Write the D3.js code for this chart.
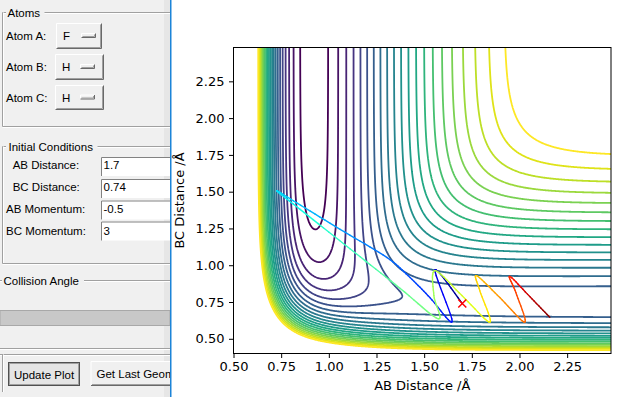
<!DOCTYPE html>
<html><head><meta charset="utf-8">
<script src="https://cdn.jsdelivr.net/npm/d3@7"></script>
<style>body{margin:0;background:#fff;overflow:hidden}svg{display:block}</style>
</head><body>
<svg id="c" width="636" height="397"></svg>
<script>
// ---------------- data ----------------
const atomLabels = ["Atom A:", "Atom B:", "Atom C:"];
const atomValues = ["F", "H", "H"];
const condLabels = ["AB Distance:", "BC Distance:", "AB Momentum:", "BC Momentum:"];
const condValues = ["1.7", "0.74", "-0.5", "3"];
const xTicks = [0.50, 0.75, 1.00, 1.25, 1.50, 1.75, 2.00, 2.25];
const yTicks = [0.50, 0.75, 1.00, 1.25, 1.50, 1.75, 2.00, 2.25];
const xDomain = [0.5, 2.48];
const yDomain = [0.4, 2.48];
// contour levels (kJ/mol)
const levels = [-575.0, -552.3, -529.6, -506.9, -484.2, -461.5, -438.8, -416.1, -393.4, -370.7,
  -348.0, -325.3, -302.6, -279.9, -257.2, -234.5, -211.8, -189.1, -166.4, -143.7, -121.0];
// LEPS pair parameters: D (kJ/mol), beta (1/Å), re (Å), Sato k
const pairHF = [590.5, 2.219, 0.917, 0.167];
const pairHH = [458.0, 1.942, 0.7414, 0.20];
// trajectory
const trajAB = [1.700, 1.557, 1.647, 1.530, 1.426, 1.304, 1.059, 0.814, 0.727, 0.849, 1.111, 1.373, 1.574,
  1.551, 1.557, 1.698, 1.845, 1.792, 1.775, 1.897, 2.028, 1.981, 1.949, 2.054, 2.159];
const trajBC = [0.740, 0.970, 0.617, 0.780, 0.916, 1.053, 1.244, 1.438, 1.505, 1.380, 1.112, 0.844, 0.636,
  0.794, 0.963, 0.794, 0.613, 0.827, 0.929, 0.780, 0.613, 0.814, 0.924, 0.787, 0.646];
const trajT = [0.00, 0.07, 0.14, 0.17, 0.20, 0.23, 0.28, 0.32, 0.34, 0.37, 0.42, 0.47, 0.51,
  0.54, 0.57, 0.61, 0.65, 0.68, 0.70, 0.75, 0.80, 0.84, 0.87, 0.94, 1.00];
const startAB = 1.7, startBC = 0.74;

// ---------------- layout ----------------
const svg = d3.select("#c");
const uiFont = "'Liberation Sans', Arial, sans-serif";
const uiSize = 11.5;
const plotFont = "'DejaVu Sans', sans-serif";
const L = 233.5, R = 611, T = 47.5, B = 353.5;
const x = d3.scaleLinear().domain(xDomain).range([L, R]);
const y = d3.scaleLinear().domain(yDomain).range([B, T]);

// ---------------- left panel ----------------
const panel = svg.append("g");
panel.append("rect").attr("x", 0).attr("y", 0).attr("width", 170).attr("height", 397).attr("fill", "#f0f0f0");
panel.append("rect").attr("x", 164).attr("y", 0).attr("width", 6).attr("height", 397).attr("fill", "#e6e6e6");

function groove(x1, y1, x2, y2) {
  panel.append("line").attr("x1", x1).attr("y1", y1).attr("x2", x2).attr("y2", y2).attr("stroke", "#a0a0a0");
  panel.append("line").attr("x1", x1 + (x1 === x2 ? 1 : 0)).attr("y1", y1 + (y1 === y2 ? 1 : 0))
    .attr("x2", x2 + (x1 === x2 ? 1 : 0)).attr("y2", y2 + (y1 === y2 ? 1 : 0)).attr("stroke", "#ffffff");
}
function uiText(tx, ty, s) {
  return panel.append("text").attr("x", tx).attr("y", ty).text(s)
    .attr("font-family", uiFont).attr("font-size", uiSize).attr("fill", "#000");
}
function frame(top, bottom, titleX, titleW, title, base) {
  groove(2.5, top, 6, top);
  groove(titleX + titleW + 1, top, 170, top);
  groove(2.5, top, 2.5, bottom);
  groove(2.5, bottom, 170, bottom);
  uiText(titleX, base, title);
}
frame(12.5, 126.5, 7.5, 36, "Atoms", 16.8);
frame(146.5, 263.5, 8.5, 88, "Initial Conditions", 150.8);
// collision angle
groove(0, 280.5, 2, 280.5);
groove(84, 280.5, 170, 280.5);
uiText(3.5, 284.5, "Collision Angle");
groove(0, 348.5, 170, 348.5);
panel.append("rect").attr("x", 0).attr("y", 310.5).attr("width", 170).attr("height", 15)
  .attr("fill", "#c8c8c8").attr("stroke", "#a8a8a8");
// buttons frame
groove(0, 354.5, 170, 354.5);
groove(2.5, 354.5, 2.5, 392);

function raised(x0, y0, w, h) {
  panel.append("rect").attr("x", x0).attr("y", y0).attr("width", w).attr("height", h).attr("fill", "#f0f0f0");
  panel.append("path").attr("d", `M${x0 + 0.5},${y0 + h - 0.5}V${y0 + 0.5}H${x0 + w - 0.5}`).attr("fill", "none").attr("stroke", "#ffffff");
  panel.append("path").attr("d", `M${x0 + 0.5},${y0 + h - 0.5}H${x0 + w - 0.5}V${y0 + 0.5}`).attr("fill", "none").attr("stroke", "#696969");
  panel.append("path").attr("d", `M${x0 + 1.5},${y0 + h - 1.5}H${x0 + w - 1.5}V${y0 + 1.5}`).attr("fill", "none").attr("stroke", "#a0a0a0");
}
const atomRows = [[56, 23, 46, 26, 40], [55, 54, 49, 26, 71], [55, 85, 49, 25, 101.7]];
atomLabels.forEach((lab, i) => {
  const [bx, by, bw, bh, base] = atomRows[i];
  uiText(6, base, lab);
  raised(bx, by, bw, bh);
  uiText(bx + 7, base, atomValues[i]);
  raised(bx + 25, by + bh / 2 - 3, 15, 5);
});
const condRows = [[12.7, 169.3, 157], [12.7, 191, 179], [6, 213.3, 200.5], [6, 234.5, 221.5]];
condLabels.forEach((lab, i) => {
  const [lx, base, ey] = condRows[i];
  uiText(lx, base, lab);
  panel.append("rect").attr("x", 101).attr("y", ey).attr("width", 70).attr("height", 19).attr("fill", "#ffffff");
  panel.append("path").attr("d", `M101.5,${ey + 19}V${ey + 0.5}H171`).attr("fill", "none").attr("stroke", "#828282");
  uiText(103.5, base, condValues[i]);
});
// Update Plot (focused)
panel.append("rect").attr("x", 8.5).attr("y", 362.5).attr("width", 71).attr("height", 23)
  .attr("fill", "#e5e5e5").attr("stroke", "#505050");
panel.append("rect").attr("x", 9.5).attr("y", 363.5).attr("width", 69).attr("height", 21)
  .attr("fill", "none").attr("stroke", "#a0a0a0");
uiText(14, 379, "Update Plot");
raised(90.5, 361, 90, 25);
uiText(96.5, 378, "Get Last Geometry");

// ---------------- plot window ----------------
svg.append("rect").attr("x", 171).attr("y", 0).attr("width", 465).attr("height", 397).attr("fill", "#ffffff");
svg.append("rect").attr("x", 170).attr("y", 0).attr("width", 1.5).attr("height", 397).attr("fill", "#1c84d8");

svg.append("clipPath").attr("id", "clip").append("rect")
  .attr("x", L).attr("y", T).attr("width", R - L).attr("height", B - T);

// LEPS surface on a grid, then contours with d3.contours
function leps(rab, rbc) {
  const rac = rab + rbc;
  function qj(r, p) {
    const [D, be, re, k] = p;
    const e = Math.exp(-be * (r - re));
    const Q = D / 4 * ((3 + k) * e * e - (2 + 6 * k) * e) / (1 + k);
    const J = D / 4 * ((1 + 3 * k) * e * e - (6 + 2 * k) * e) / (1 + k);
    return [Q, J];
  }
  const [q1, j1] = qj(rab, pairHF), [q2, j2] = qj(rbc, pairHH), [q3, j3] = qj(rac, pairHF);
  return q1 + q2 + q3 - Math.sqrt(0.5 * ((j1 - j2) ** 2 + (j2 - j3) ** 2 + (j3 - j1) ** 2));
}
const step = 0.004;
const gx0 = 0.46, gy0 = 0.36;
const nx = Math.round((2.52 - gx0) / step) + 1, ny = Math.round((2.52 - gy0) / step) + 1;
const grid = new Float64Array(nx * ny);
for (let j = 0; j < ny; j++) for (let i = 0; i < nx; i++) grid[j * nx + i] = leps(gx0 + i * step, gy0 + j * step);
const contours = d3.contours().size([nx, ny]).thresholds(levels)(Array.from(grid));
const color = d3.scaleSequential(d3.interpolateViridis).domain([levels[0], levels[levels.length - 1]]);
const gx = c => x(gx0 + (c - 0.5) * step), gy = c => y(gy0 + (c - 0.5) * step);
const toPath = geom => geom.coordinates.map(poly => poly.map(ring =>
  "M" + ring.map(p => gx(p[0]).toFixed(2) + "," + gy(p[1]).toFixed(2)).join("L") + "Z").join("")).join("");
const cg = svg.append("g").attr("clip-path", "url(#clip)");
cg.selectAll("path.c").data(contours).join("path").attr("class", "c")
  .attr("d", toPath).attr("fill", "none").attr("stroke", d => color(d.value))
  .attr("stroke-width", 1.8).attr("stroke-linejoin", "round");

// trajectory with jet colormap
const jr = d3.scaleLinear().domain([0, 0.35, 0.66, 0.89, 1]).range([0, 0, 1, 1, 0.5]).clamp(true);
const jg = d3.scaleLinear().domain([0, 0.125, 0.375, 0.64, 0.91, 1]).range([0, 0, 1, 1, 0, 0]).clamp(true);
const jb = d3.scaleLinear().domain([0, 0.11, 0.34, 0.65, 1]).range([0.5, 1, 1, 0, 0]).clamp(true);
const jet = t => d3.rgb(255 * jr(t), 255 * jg(t), 255 * jb(t)).formatHex();
const pts = trajAB.map((a, i) => [x(a), y(trajBC[i])]);
const tg = cg.append("g");
for (let i = 0; i < pts.length - 1; i++) {
  const p0 = pts[Math.max(0, i - 1)], p1 = pts[i], p2 = pts[i + 1], p3 = pts[Math.min(pts.length - 1, i + 2)];
  const c1 = [p1[0] + (p2[0] - p0[0]) / 6, p1[1] + (p2[1] - p0[1]) / 6];
  const c2 = [p2[0] - (p3[0] - p1[0]) / 6, p2[1] - (p3[1] - p1[1]) / 6];
  const n = 10;
  let prev = p1;
  for (let s = 1; s <= n; s++) {
    const u = s / n, v = 1 - u;
    const q = [v * v * v * p1[0] + 3 * v * v * u * c1[0] + 3 * v * u * u * c2[0] + u * u * u * p2[0],
               v * v * v * p1[1] + 3 * v * v * u * c1[1] + 3 * v * u * u * c2[1] + u * u * u * p2[1]];
    const t = trajT[i] + (trajT[i + 1] - trajT[i]) * (s - 0.5) / n;
    tg.append("line").attr("x1", prev[0]).attr("y1", prev[1]).attr("x2", q[0]).attr("y2", q[1])
      .attr("stroke", jet(t)).attr("stroke-width", 1.4).attr("stroke-linecap", "round");
    prev = q;
  }
}
// start marker
const mx = x(startAB), my = y(startBC);
svg.append("path").attr("d", `M${mx - 4},${my - 4}L${mx + 4},${my + 4}M${mx - 4},${my + 4}L${mx + 4},${my - 4}`)
  .attr("stroke", "#ff0000").attr("stroke-width", 1.5);

// axes
svg.append("rect").attr("x", L).attr("y", T).attr("width", R - L).attr("height", B - T)
  .attr("fill", "none").attr("stroke", "#000").attr("stroke-width", 1);
const xa = svg.append("g").attr("transform", `translate(0,${B})`)
  .call(d3.axisBottom(x).tickValues(xTicks).tickFormat(d3.format(".2f")).tickSize(4.5).tickPadding(4));
const ya = svg.append("g").attr("transform", `translate(${L},0)`)
  .call(d3.axisLeft(y).tickValues(yTicks).tickFormat(d3.format(".2f")).tickSize(4.5).tickPadding(4.5));
[xa, ya].forEach(a => {
  a.select(".domain").remove();
  a.selectAll("text").attr("font-family", plotFont).attr("font-size", 13).attr("fill", "#000");
  a.selectAll("line").attr("stroke", "#000");
});
svg.append("text").attr("x", (L + R) / 2).attr("y", 390).attr("text-anchor", "middle")
  .attr("font-family", plotFont).attr("font-size", 13).text("AB Distance /Å");
svg.append("text").attr("transform", `translate(183.5,${(T + B) / 2}) rotate(-90)`).attr("text-anchor", "middle")
  .attr("font-family", plotFont).attr("font-size", 13).text("BC Distance /Å");
</script>
</body></html>
